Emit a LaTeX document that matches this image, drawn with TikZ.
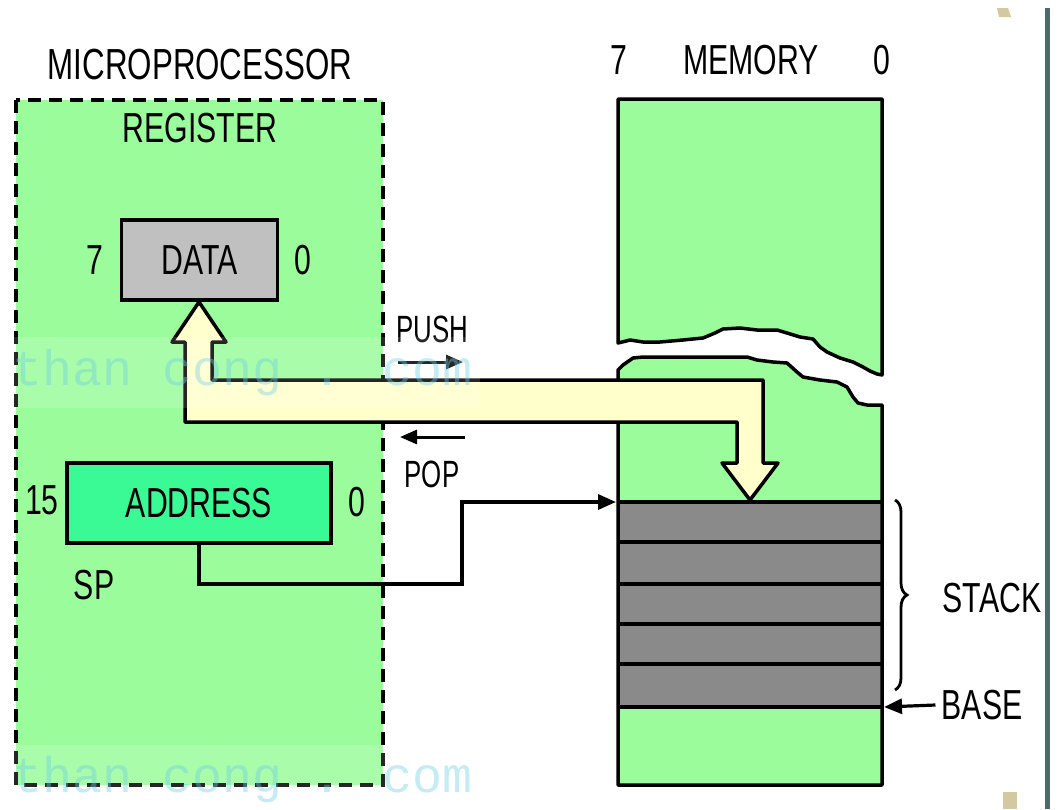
\documentclass[tikz,border=0pt]{standalone}
\usepackage{graphicx}
\usepackage{fontspec}
\setmainfont{Liberation Sans}
\newfontfamily\wmfont{Liberation Mono}
\usetikzlibrary{arrows.meta,decorations.pathreplacing}
\definecolor{memgreen}{RGB}{155,252,155}
\definecolor{datagray}{RGB}{192,192,192}
\definecolor{addrgreen}{RGB}{58,250,150}
\definecolor{stackgray}{RGB}{138,138,138}
\definecolor{arrowyellow}{RGB}{255,255,204}
\definecolor{slate}{RGB}{74,107,107}
\definecolor{tanmark}{RGB}{212,200,160}
\definecolor{wmcyan}{RGB}{110,205,230}
\newcommand{\nar}[1]{\scalebox{0.72}[1]{#1}}
\newcommand{\narr}[1]{\scalebox{0.68}[1]{#1}}
\begin{document}
\begin{tikzpicture}[x=1pt,y=-1pt,
  lbl/.style={inner sep=0pt,font=\fontsize{42}{42}\selectfont},
  biglbl/.style={inner sep=0pt,font=\fontsize{43.5}{43.5}\selectfont},
  smalllbl/.style={inner sep=0pt,font=\fontsize{38}{38}\selectfont},
  regbox/.style={draw,line width=3.5pt,inner sep=0pt,font=\fontsize{42}{42}\selectfont},
  outline/.style={line width=3.5pt,line join=round},
  conn/.style={line width=3.2pt,-{Triangle[length=18pt,width=15pt]}},
  thinconn/.style={line width=3pt,-{Triangle[length=17pt,width=14pt]}},
  wm/.style={inner sep=0pt,font=\wmfont\fontsize{50}{50}\selectfont,text=wmcyan,text opacity=0.4}
]
\useasboundingbox (0,0) rectangle (1059,809);
\fill[white] (0,0) rectangle (1059,809);

% slide decorations
\fill[slate] (1045,8) rectangle (1050,809);
\fill[tanmark] (997,8) -- (1008,8) -- (1011,17) -- (999,17) -- cycle;
\fill[tanmark] (1003,792) rectangle (1017,809);

% microprocessor
\draw[fill=memgreen,line width=3.5pt,dash pattern=on 13pt off 8pt] (16,100) rectangle (383,785);
\node[biglbl] (mp) at (200,65) {\nar{MICROPROCESSOR}};
\node[lbl] (reg) at (200,128) {\nar{REGISTER}};
\node[regbox,fill=datagray,minimum width=156pt,minimum height=80pt] (data) at (199.5,260) {\nar{DATA}};
\node[lbl] (d7) at (95,260) {\nar{7}};
\node[lbl] (d0) at (303,260) {\nar{0}};
\node[regbox,fill=addrgreen,minimum width=264pt,minimum height=80pt] (addr) at (199,503) {\nar{ADDRESS}};
\node[lbl] (a15) at (42,500) {\nar{15}};
\node[lbl] (a0) at (357,502) {\nar{0}};
\node[lbl] (sp) at (94,585) {\nar{SP}};

% memory
\node[lbl] (m7) at (619,60) {\nar{7}};
\node[lbl] (mem) at (751,60) {\nar{MEMORY}};
\node[lbl] (m0) at (882,60) {\nar{0}};
\draw[outline,fill=memgreen] (618,343) -- (630,340) -- (643,342) -- (660,342) -- (683,340) -- (703,338) -- (715,333) -- (723,329) -- (740,328) -- (757,330) -- (777,330) -- (787,333) -- (800,337) -- (813,339) -- (820,347) -- (827,352) -- (840,358) -- (853,362) -- (863,367) -- (870,371) -- (877,374) -- (882,375) -- (882,99) -- (618,99) -- cycle;
\fill[memgreen] (618,370) -- (623,365) -- (633,358) -- (643,357) -- (667,357) -- (700,357) -- (727,357) -- (747,357) -- (757,360) -- (773,362) -- (787,363) -- (797,372) -- (803,377) -- (820,380) -- (837,382) -- (847,387) -- (853,397) -- (858,403) -- (867,405) -- (882,405) -- (882,785) -- (618,785) -- cycle;
\fill[stackgray] (618,502) rectangle (882,707);
\foreach \yy in {502,542,584,624,664,707} \draw[line width=3.5pt] (618,\yy) -- (882,\yy);
\draw[outline] (618,370) -- (623,365) -- (633,358) -- (643,357) -- (667,357) -- (700,357) -- (727,357) -- (747,357) -- (757,360) -- (773,362) -- (787,363) -- (797,372) -- (803,377) -- (820,380) -- (837,382) -- (847,387) -- (853,397) -- (858,403) -- (867,405) -- (882,405) -- (882,785) -- (618,785) -- cycle;
\coordinate (stacktop) at (616,502);
\coordinate (stackbase) at (884,707);

% stack brace and base
\draw[line width=2.8pt,decorate,decoration={brace,amplitude=12pt}] (895,500) -- (895,690);
\node[lbl] (stack) at (992,598) {\nar{STACK}};
\node[lbl] (base) at (982,705) {\nar{BASE}};
\draw[conn] ([xshift=-6pt]base.west) -- (stackbase);

% data path arrow
\draw[outline,fill=arrowyellow] (199,302) -- (226,342) -- (212,342) -- (212,380) -- (763,380) -- (763,463) -- (778,463) -- (750,500) -- (722,463) -- (737,463) -- (737,422) -- (185,422) -- (185,342) -- (172,342) -- cycle;

% push / pop
\node[smalllbl] (push) at (432,329) {\narr{PUSH}};
\node[smalllbl] (pop) at (432,474) {\narr{POP}};
\coordinate (pushA) at (398,362);
\coordinate (pushB) at (463,362);
\coordinate (popA) at (465,437);
\coordinate (popB) at (400,437);
\draw[thinconn] (pushA) -- (pushB);
\draw[thinconn] (popA) -- (popB);

% stack pointer connector
\coordinate (spbend) at (462,584);
\draw[conn] (addr.south) |- (spbend) |- (stacktop);

% watermark
\fill[white,opacity=0.15] (0,337) rectangle (480,408);
\fill[white,opacity=0.15] (0,745) rectangle (480,809);
\node[wm,anchor=base west] (wm1) at (12,385) {than cong . com};
\node[wm,anchor=base west] (wm2) at (12,792) {than cong . com};
\end{tikzpicture}
\end{document}
